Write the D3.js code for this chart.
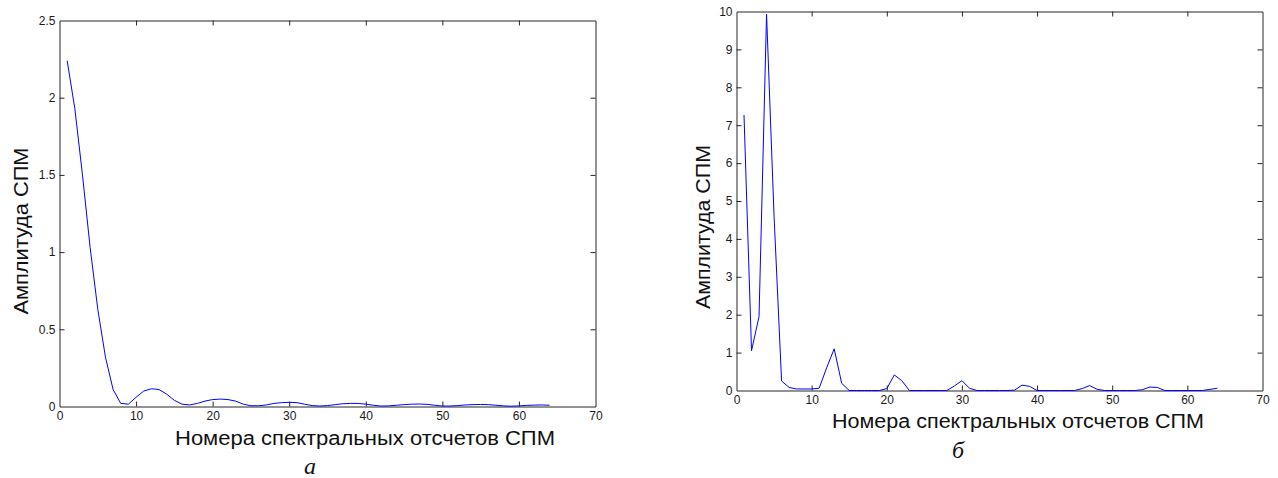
<!DOCTYPE html>
<html>
<head>
<meta charset="utf-8">
<script src="https://cdn.jsdelivr.net/npm/d3@7/dist/d3.min.js"></script>
<style>
  html, body { margin: 0; padding: 0; background: #fff; }
  svg { display: block; }
  .tick text { font-family: Arial, "Liberation Sans", sans-serif; font-size: 12px; fill: #1a1a1a; }
  .domain, .tick line { stroke: #262626; stroke-width: 1; }
  .title { font-family: Arial, "Liberation Sans", sans-serif; font-size: 19.5px; fill: #111; }
  .letter { font-family: "Times New Roman", "Liberation Serif", serif; font-style: italic; font-size: 24px; fill: #111; }
</style>
</head>
<body>
<svg id="chart" width="1278" height="478"></svg>
<script>
// Spectral sample numbers (bins) shared by both panels
const bins = d3.range(1, 65);

// Panel (а): smooth PSD amplitude, sinc-like main lobe with decaying side lobes
const psdA = [
  2.24, 1.93, 1.50, 1.03, 0.63, 0.32, 0.11, 0.02, 0.015, 0.06,
  0.10, 0.115, 0.11, 0.08, 0.04, 0.015, 0.01, 0.02, 0.035, 0.045,
  0.048, 0.045, 0.035, 0.015, 0.005, 0.005, 0.01, 0.02, 0.025, 0.027,
  0.025, 0.015, 0.006, 0.003, 0.006, 0.012, 0.018, 0.02, 0.02, 0.015,
  0.008, 0.003, 0.004, 0.008, 0.012, 0.015, 0.016, 0.014, 0.008, 0.003,
  0.003, 0.006, 0.01, 0.012, 0.013, 0.012, 0.008, 0.004, 0.002, 0.004,
  0.007, 0.009, 0.01, 0.008
];

// Panel (б): PSD amplitude with a dominant peak and periodic small peaks
const psdB = [
  7.27, 1.05, 1.95, 9.93, 4.6, 0.25, 0.08, 0.04, 0.04, 0.04,
  0.06, 0.6, 1.10, 0.19, 0.0, 0.0, 0.0, 0.0, 0.0, 0.05,
  0.41, 0.26, 0.0, 0.0, 0.0, 0.0, 0.0, 0.0, 0.12, 0.26,
  0.06, 0.0, 0.0, 0.0, 0.0, 0.0, 0.01, 0.14, 0.11, 0.0,
  0.0, 0.0, 0.0, 0.0, 0.0, 0.05, 0.13, 0.03, 0.0, 0.0,
  0.0, 0.0, 0.0, 0.02, 0.09, 0.08, 0.0, 0.0, 0.0, 0.0,
  0.0, 0.0, 0.03, 0.06
];

// Tick values
const xTicks = [0, 10, 20, 30, 40, 50, 60, 70];
const yTicksA = [0, 0.5, 1, 1.5, 2, 2.5];
const yTicksB = [0, 1, 2, 3, 4, 5, 6, 7, 8, 9, 10];

// Text
const xTitle = "Номера спектральных отсчетов СПМ";
const yTitle = "Амплитуда СПМ";
const letters = ["а", "б"];

const svg = d3.select("#chart");

function panel(opts) {
  const x = d3.scaleLinear().domain([0, 70]).range([opts.left, opts.right]);
  const y = d3.scaleLinear().domain([0, opts.yMax]).range([opts.bottom, opts.top]);
  const g = svg.append("g");
  const fmt = d3.format("~g");

  // bottom axis with inward ticks
  g.append("g")
    .attr("transform", `translate(0,${opts.bottom})`)
    .call(d3.axisBottom(x).tickValues(xTicks).tickFormat(fmt)
      .tickSizeInner(-5).tickSizeOuter(0).tickPadding(5))
    .call(a => a.selectAll(".tick").filter(d => d === 0 || d === 70).select("line").remove());
  // top axis, ticks only
  g.append("g")
    .attr("transform", `translate(0,${opts.top})`)
    .call(d3.axisTop(x).tickValues(xTicks).tickFormat("")
      .tickSizeInner(-5).tickSizeOuter(0))
    .call(a => a.selectAll(".tick").filter(d => d === 0 || d === 70).select("line").remove());
  // left axis with inward ticks
  g.append("g")
    .attr("transform", `translate(${opts.left},0)`)
    .call(d3.axisLeft(y).tickValues(opts.yTicks).tickFormat(fmt)
      .tickSizeInner(-5).tickSizeOuter(0).tickPadding(4))
    .call(a => a.selectAll(".tick").filter(d => d === 0 || d === opts.yMax).select("line").remove());
  // right axis, ticks only
  g.append("g")
    .attr("transform", `translate(${opts.right},0)`)
    .call(d3.axisRight(y).tickValues(opts.yTicks).tickFormat("")
      .tickSizeInner(-5).tickSizeOuter(0))
    .call(a => a.selectAll(".tick").filter(d => d === 0 || d === opts.yMax).select("line").remove());

  // spectrum line
  const line = d3.line().x((d, i) => x(bins[i])).y(d => y(d));
  g.append("path")
    .datum(opts.values)
    .attr("fill", "none")
    .attr("stroke", "#0000ff")
    .attr("stroke-width", 1)
    .attr("d", line);

  // axis titles
  g.append("text").attr("class", "title")
    .attr("x", opts.xTitleX).attr("y", opts.xTitleY)
    .attr("text-anchor", "middle")
    .attr("textLength", opts.xTitleLen).attr("lengthAdjust", "spacingAndGlyphs")
    .text(xTitle);
  g.append("text").attr("class", "title")
    .attr("transform", `translate(${opts.yTitleX},${opts.yTitleY}) rotate(-90)`)
    .attr("text-anchor", "middle")
    .attr("textLength", opts.yTitleLen).attr("lengthAdjust", "spacingAndGlyphs")
    .text(yTitle);

  // panel letter
  g.append("text").attr("class", "letter")
    .attr("x", opts.letterX).attr("y", opts.letterY)
    .attr("text-anchor", "middle").text(opts.letter);
}

panel({
  left: 59.5, right: 595.5, top: 20.5, bottom: 406.5,
  yMax: 2.5, yTicks: yTicksA, values: psdA,
  xTitleX: 365, xTitleY: 445, xTitleLen: 380,
  yTitleX: 28, yTitleY: 231, yTitleLen: 167,
  letter: letters[0], letterX: 310, letterY: 474
});

panel({
  left: 736.5, right: 1262.5, top: 11.5, bottom: 390.5,
  yMax: 10, yTicks: yTicksB, values: psdB,
  xTitleX: 1018, xTitleY: 428, xTitleLen: 372,
  yTitleX: 710, yTitleY: 227, yTitleLen: 164,
  letter: letters[1], letterX: 958, letterY: 458
});
</script>
</body>
</html>
